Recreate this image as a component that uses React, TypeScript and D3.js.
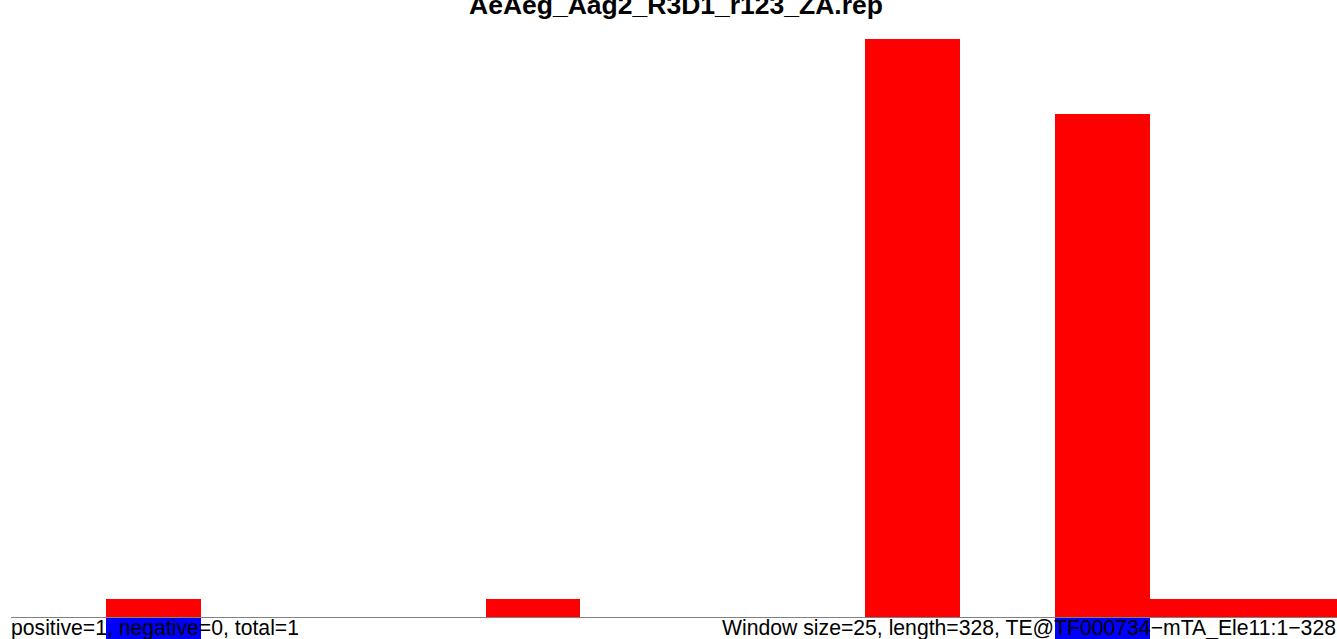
import React, { useEffect } from "react";
import * as d3 from "d3";

const title = "AeAeg_Aag2_R3D1_r123_ZA.rep";
const binIndex = [0, 1, 2, 3, 4, 5, 6, 7, 8, 9, 10, 11, 12, 13];
const positiveCounts = [0, 1, 0, 0, 0, 1, 0, 0, 0, 32, 0, 27.85, 1, 1];
const negativeCounts = [0, 2, 0, 0, 0, 0, 0, 0, 0, 0, 0, 2, 0, 0];
const leftLabel = "positive=1, negative=0, total=1";
const rightLabel = "Window size=25, length=328, TE@TF000734\u2212mTA_Ele11:1\u2212328";

const W = 1337;
const H = 639;

export default function App() {
  useEffect(() => {
    document.body.style.margin = "0";
  }, []);
  const x = d3.scaleLinear().domain([0, 14]).range([11, 1339.6]);
  const y = d3.scaleLinear().domain([0, 32]).range([617, 39]);
  const font = "'Liberation Sans', Arial, Helvetica, sans-serif";
  return (
    <svg width={W} height={H} style={{ position: "fixed", left: 0, top: 0, display: "block" }}>
      <rect x={0} y={0} width={W} height={H} fill="#ffffff" />
      <text x={676} y={14} textAnchor="middle" fontFamily={font} fontWeight="bold" fontSize={26.5} fill="#000">
        {title}
      </text>
      {binIndex.map((b, i) =>
        negativeCounts[i] > 0 ? (
          <rect
            key={"n" + b}
            x={x(b)}
            y={618}
            width={x(b + 1) - x(b)}
            height={y(0) - y(negativeCounts[i])}
            fill="#0000ff"
            shapeRendering="crispEdges"
          />
        ) : null
      )}
      <line x1={11} x2={W} y1={617.5} y2={617.5} stroke="#808080" strokeWidth={1} />
      {binIndex.map((b, i) =>
        positiveCounts[i] > 0 ? (
          <rect
            key={"p" + b}
            x={x(b)}
            y={y(positiveCounts[i])}
            width={x(b + 1) - x(b)}
            height={y(0) - y(positiveCounts[i])}
            fill="#ff0000"
            shapeRendering="crispEdges"
          />
        ) : null
      )}
      <text x={11} y={635} fontFamily={font} fontSize={21.2} fill="#000">
        {leftLabel}
      </text>
      <text x={722} y={635} fontFamily={font} fontSize={21.2} fill="#000">
        {rightLabel}
      </text>
    </svg>
  );
}
